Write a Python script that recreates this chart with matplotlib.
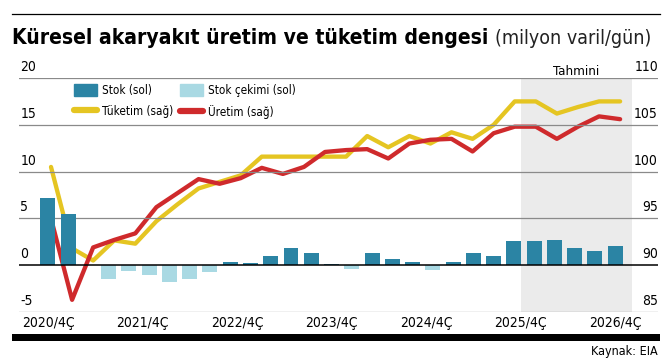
import matplotlib
matplotlib.use("Agg")
import matplotlib.pyplot as plt
import matplotlib.transforms as mtransforms
from matplotlib import font_manager
from matplotlib.patches import Patch, Rectangle
from matplotlib.lines import Line2D
import numpy as np

# stok degisimi (sol eksen), 29 ceyrek
stok = [7.2, 5.5, 0.0, -1.5, -0.65, -1.05, -1.8, -1.5, -0.7, 0.36, 0.2, 1.0, 1.8, 1.3, 0.15,
        -0.4, 1.3, 0.65, 0.32, -0.5, 0.32, 1.3, 0.97, 2.58, 2.58, 2.69, 1.83, 1.5, 2.08]
# tuketim ve uretim (sag eksen, milyon varil/gun)
tuketim = [100.5, 91.8, 90.5, 92.65, 92.3, 94.7, 96.5, 98.2, 98.9, 99.6, 101.6, 101.6, 101.6, 101.6,
           101.6, 103.8, 102.6, 103.8, 103.0, 104.2, 103.5, 105.0, 107.5, 107.5, 106.2, 106.9, 107.5, 107.5]
uretim = [95.0, 86.3, 91.9, 92.7, 93.4, 96.2, 97.7, 99.2, 98.7, 99.3, 100.4, 99.75, 100.5, 102.1,
          102.3, 102.4, 101.4, 103.0, 103.4, 103.5, 102.15, 104.1, 104.8, 104.8, 103.5, 104.8, 105.9, 105.6]
x_labels = ["2020/4Ç", "2021/4Ç", "2022/4Ç", "2023/4Ç", "2024/4Ç", "2025/4Ç", "2026/4Ç"]
left_ticks = [-5, 0, 5, 10, 15, 20]
right_ticks = [85, 90, 95, 100, 105, 110]

# dar bir yazi tipi bul
fonts = font_manager.fontManager.ttflist
names = {f.name for f in fonts}
if "Liberation Sans Narrow" in names:
    plt.rcParams["font.family"] = ["Liberation Sans Narrow", "DejaVu Sans"]
elif any(f.name == "DejaVu Sans" and "condensed" in str(f.stretch) for f in fonts):
    plt.rcParams["font.family"] = ["DejaVu Sans"]
    plt.rcParams["font.stretch"] = "condensed"
else:
    plt.rcParams["font.family"] = ["Roboto", "DejaVu Sans"]

DARK = "#2b84a4"
LIGHT = "#a9d9e3"
YELLOW = "#e5c522"
RED = "#cf2a2c"
GRID = "#8a8a8a"

W, H = 666, 360
fig = plt.figure(figsize=(W / 100, H / 100), dpi=100)
ax = fig.add_axes([19 / W, 48 / H, 639 / W, 234 / H])
ax2 = ax.twinx()

xb = np.arange(len(stok))
xl = np.linspace(0.15, 28.25, len(tuketim))

ax.set_xlim(-1.43, 30.12)
ax.set_ylim(85, 110)
ax2.set_ylim(-5, 20)

ax.axvspan(23.35, 28.85, color="#ebebeb", lw=0, zorder=0)
for v in left_ticks:
    ax2.axhline(v, color="black" if v == 0 else GRID, lw=1.1 if v == 0 else 0.9, zorder=0.5 if v != 0 else 5)

ax.plot(xl, tuketim, color=YELLOW, lw=3.1, solid_capstyle="round", solid_joinstyle="round", zorder=2)
ax.plot(xl, uretim, color=RED, lw=3.1, solid_capstyle="round", solid_joinstyle="round", zorder=3)

colors = [DARK if v >= 0 else LIGHT for v in stok]
ax2.bar(xb, stok, width=0.74, color=colors, zorder=3)

for a in (ax, ax2):
    a.set_xticks([])
    a.set_yticks([])
    for s in a.spines.values():
        s.set_visible(False)
ax2.patch.set_visible(False)

lt = mtransforms.offset_copy(mtransforms.blended_transform_factory(ax2.transAxes, ax2.transData),
                             fig=fig, y=4, units="dots")
for v in left_ticks:
    ax2.text(0.002, v, str(v), transform=lt, ha="left", va="bottom", fontsize=10)
rt = mtransforms.offset_copy(mtransforms.blended_transform_factory(ax.transAxes, ax.transData),
                             fig=fig, y=4, units="dots")
for v in right_ticks:
    ax.text(1.0, v, str(v), transform=rt, ha="right", va="bottom", fontsize=10)

for p, lab in zip(np.linspace(0, len(stok) - 1, len(x_labels)), x_labels):
    ax.text(p, -0.045, lab, transform=ax.get_xaxis_transform(), ha="center", va="center", fontsize=10)

ax.text(26.1, 1.0, "Tahmini", transform=ax.get_xaxis_transform(), ha="center", va="bottom", fontsize=9.5)

leg_kw = dict(loc="upper left", frameon=False, fontsize=8.4, handlelength=2.0, handleheight=1.1,
              handletextpad=0.4, labelspacing=0.7, borderpad=0, borderaxespad=0)
fig.legend([Patch(color=DARK), Line2D([], [], color=YELLOW, lw=4.5, solid_capstyle="round")],
           ["Stok (sol)", "Tüketim (sağ)"], bbox_to_anchor=(74 / W, 1 - 84 / H), **leg_kw)
fig.legend([Patch(color=LIGHT), Line2D([], [], color=RED, lw=4.5, solid_capstyle="round")],
           ["Stok çekimi (sol)", "Üretim (sağ)"], bbox_to_anchor=(180 / W, 1 - 84 / H), **leg_kw)

# ust cizgi, baslik, alt bant
fig.add_artist(Line2D([12 / W, 660 / W], [1 - 14 / H, 1 - 14 / H], color="black", lw=0.9))
t1 = fig.text(12 / W, 1 - 38 / H, "Küresel akaryakıt üretim ve tüketim dengesi", fontsize=17,
              fontweight="bold", ha="left", va="center")
fig.canvas.draw()
r = fig.canvas.get_renderer()
w = t1.get_window_extent(r).width
t1.set_fontsize(min(17, 17 * 476 / w))
bb = t1.get_window_extent(r)
t2 = fig.text((bb.x1 + 7) / W, 1 - 38 / H, "(milyon varil/gün)", fontsize=15, color="#222222",
              ha="left", va="center")
w2 = t2.get_window_extent(r).width
t2.set_fontsize(min(15, 15 * (652 - bb.x1 - 7) / w2))
fig.add_artist(Rectangle((12 / W, 1 - 341 / H), 648 / W, 7 / H, color="black", lw=0))
fig.text(658 / W, 1 - 352 / H, "Kaynak: EIA", fontsize=9, ha="right", va="center")

fig.savefig("out.png", dpi=100)
